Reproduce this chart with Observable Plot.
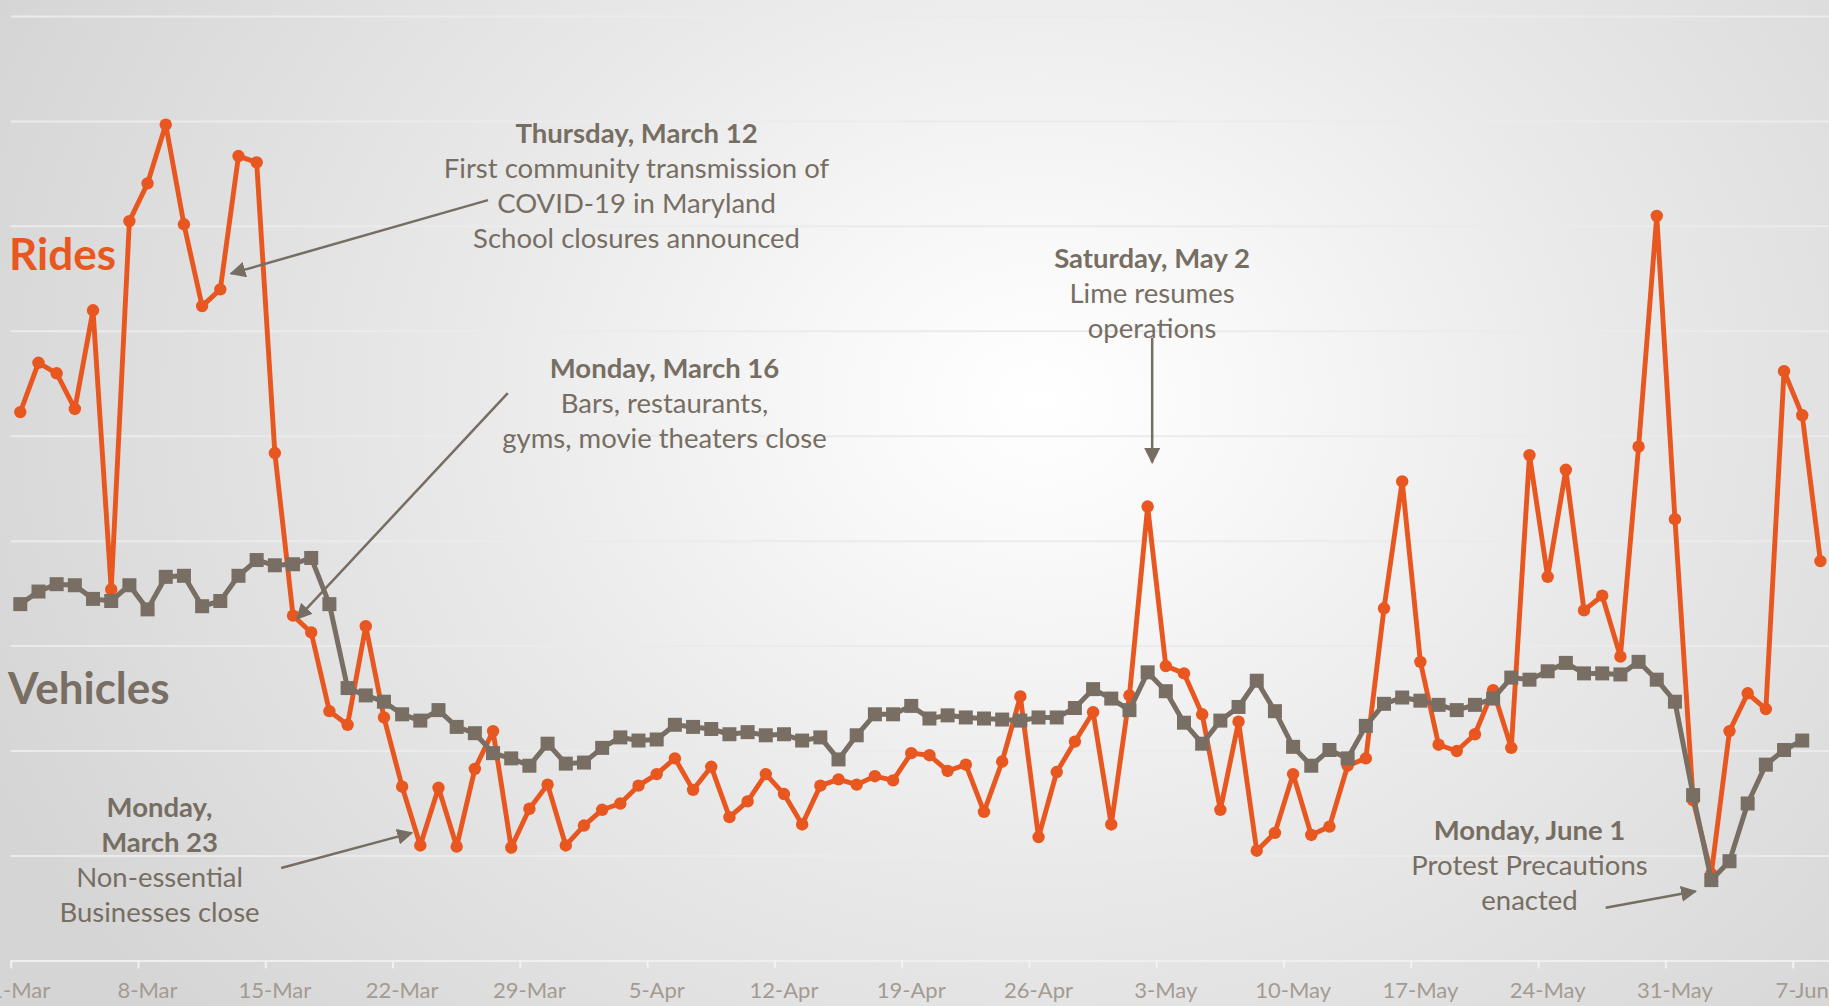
<!DOCTYPE html>
<html>
<head>
<meta charset="utf-8">
<script src="https://cdn.jsdelivr.net/npm/d3@7"></script>
<script src="https://cdn.jsdelivr.net/npm/@observablehq/plot@0.6"></script>
<style>
  html, body { margin: 0; padding: 0; overflow: hidden; background: #dedede; }
  #chart svg { display: block; }
</style>
</head>
<body>
<div id="chart"></div>
<script>
// ---- data (index 0 = 1 March 2020, one value per day) ----
const startDate = "2020-03-01";
const rides = [
  523, 570, 560, 526, 620, 354, 705, 741, 797, 702,
  624, 640, 767, 761, 484, 329, 313, 238, 225, 319,
  232, 166, 110, 165, 109, 183, 219, 108, 145, 168,
  110, 129, 144, 150, 167, 178, 193, 163, 185, 137,
  152, 178, 159, 130, 167, 173, 168, 176, 172, 198,
  196, 181, 187, 142, 190, 252, 118, 180, 209, 237,
  130, 253, 433, 281, 274, 235, 144, 228, 105, 122,
  178, 120, 128, 186, 193, 336, 457, 285, 206, 200,
  216, 258, 203, 482, 366, 468, 334, 348, 290, 490,
  710, 421, 153, 83, 219, 255, 240, 562, 520, 381
];
const vehicles = [
  340, 352, 359, 358, 345, 343, 358, 335, 366, 367,
  338, 343, 367, 382, 377, 378, 384, 340, 260, 253,
  247, 235, 229, 239, 223, 217, 198, 193, 186, 207,
  188, 189, 203, 213, 210, 211, 225, 223, 221, 216,
  218, 215, 216, 210, 213, 192, 215, 235, 235, 243,
  231, 234, 232, 231, 230, 229, 232, 232, 241, 259,
  250, 239, 275, 257, 227, 207, 229, 242, 267, 238,
  204, 186, 201, 193, 224, 245, 251, 248, 244, 239,
  244, 250, 270, 268, 276, 284, 274, 274, 273, 285,
  268, 247, 158, 77, 95, 150, 187, 201, 210
];
const tickDates = ["2020-03-01","2020-03-08","2020-03-15","2020-03-22","2020-03-29","2020-04-05","2020-04-12",
                   "2020-04-19","2020-04-26","2020-05-03","2020-05-10","2020-05-17","2020-05-24","2020-05-31","2020-06-07"];
const tickLabels = ["1-Mar","8-Mar","15-Mar","22-Mar","29-Mar","5-Apr","12-Apr",
                    "19-Apr","26-Apr","3-May","10-May","17-May","24-May","31-May","7-Jun"];
const gridValues = [100, 200, 300, 400, 500, 600, 700, 800, 900];

// annotations: x in days after 1 March, y in chart units
const notes = [
  {x: 34.39, y: 788, title: ["Thursday, March 12"], body: ["First community transmission of", "COVID-19 in Maryland", "School closures announced"]},
  {x: 35.93, y: 564, title: ["Monday, March 16"], body: ["Bars, restaurants,", "gyms, movie theaters close"]},
  {x: 8.16, y: 146, title: ["Monday,", "March 23"], body: ["Non-essential", "Businesses close"]},
  {x: 62.74, y: 669, title: ["Saturday, May 2"], body: ["Lime resumes", "operations"]},
  {x: 83.5, y: 124, title: ["Monday, June 1"], body: ["Protest Precautions", "enacted"]}
];
const arrows = [
  {x1: 26.22, y1: 725, x2: 12.09, y2: 655},
  {x1: 27.31, y1: 541, x2: 15.72, y2: 326},
  {x1: 14.85, y1: 88.5, x2: 22.03, y2: 122},
  {x1: 62.75, y1: 594, x2: 62.75, y2: 475},
  {x1: 87.69, y1: 50.6, x2: 92.63, y2: 66.4}
];
const seriesLabels = [
  {name: "Rides", x: -0.12, y: 672},
  {name: "Vehicles", x: -0.17, y: 258}
];

// ---- helpers ----
const ORANGE = "#E8571F", GRAY = "#786E63", NOTE = "#776E63", TICKTXT = "#A39B92";
const t0 = Date.parse(startDate + "T00:00:00Z");
const day = n => new Date(t0 + n * 864e5);
const rideRows = rides.map((v, i) => ({date: day(i + 0.5), value: v}));
const vehicleRows = vehicles.map((v, i) => ({date: day(i + 0.5), value: v}));
const ticks = tickDates.map(s => new Date(s + "T00:00:00Z"));
// labels sit centred on the day they name (half a day right of the tick)
const labelPos = ticks.map(d => new Date(+d + 864e5 / 2));
const labelOf = new Map(labelPos.map((d, i) => [+d, tickLabels[i]]));

const lineStep = 33.4;
const noteRows = notes.flatMap(n => [...n.title.map(t => ({t, bold: true})), ...n.body.map(t => ({t, bold: false}))]
  .map((r, i) => ({date: day(n.x), value: n.y - i * lineStep, text: r.t, bold: r.bold})));
const arrowRows = arrows.map(a => ({x1: day(a.x1), y1: a.y1, x2: day(a.x2), y2: a.y2}));

function filledHead(color, context) {
  const doc = (context && context.document) || document;
  const ns = "http://www.w3.org/2000/svg";
  const m = doc.createElementNS(ns, "marker");
  m.setAttribute("viewBox", "0 -5 10 10");
  m.setAttribute("refX", "9");
  m.setAttribute("refY", "0");
  m.setAttribute("markerWidth", "6.4");
  m.setAttribute("markerHeight", "6.4");
  m.setAttribute("orient", "auto");
  const p = doc.createElementNS(ns, "path");
  p.setAttribute("d", "M0,-5L10,0L0,5Z");
  p.setAttribute("fill", color);
  p.setAttribute("stroke", "none");
  m.appendChild(p);
  return m;
}

const FONT = "Lato, 'Open Sans', sans-serif";
const NOTE_SIZE = 27.5;

const chart = Plot.plot({
  width: 1829,
  height: 1006,
  marginLeft: 10.7,
  marginRight: 0,
  marginTop: 16,
  marginBottom: 45.6,
  x: {type: "utc", domain: [day(0), day(100)], axis: null},
  y: {domain: [0, 900], axis: null},
  style: {
    background: "radial-gradient(ellipse 1150px 950px at 1040px 400px, #ffffff 0%, #f8f8f8 18%, #e9e9e9 50%, #d5d5d5 100%)",
    fontFamily: FONT,
    overflow: "hidden"
  },
  marks: [
    Plot.ruleY(gridValues, {stroke: "#ebebeb", strokeWidth: 2}),
    Plot.ruleY([0], {stroke: "#efefef", strokeWidth: 2}),
    // tick marks
    Plot.axisX(ticks, {
      anchor: "bottom",
      tickSize: 8,
      stroke: "#f2f2f2",
      strokeWidth: 2,
      label: null,
      tickFormat: () => ""
    }),
    // tick labels
    Plot.axisX(labelPos, {
      anchor: "bottom",
      tickSize: 0,
      tickPadding: 21,
      color: TICKTXT,
      fontSize: 22,
      fontFamily: FONT,
      label: null,
      tickFormat: d => labelOf.get(+d)
    }),
    // Rides
    Plot.lineY(rideRows, {x: "date", y: "value", stroke: ORANGE, strokeWidth: 4.9, strokeLinejoin: "round"}),
    Plot.dot(rideRows, {x: "date", y: "value", r: 6.2, fill: ORANGE, stroke: "none"}),
    // Vehicles
    Plot.lineY(vehicleRows, {x: "date", y: "value", stroke: GRAY, strokeWidth: 5, strokeLinejoin: "round"}),
    Plot.dot(vehicleRows, {x: "date", y: "value", symbol: "square", r: 7.9, fill: GRAY, stroke: "none"}),
    // series labels
    Plot.text(seriesLabels, {x: d => day(d.x), y: "y", text: "name", textAnchor: "start",
      fill: d => d.name === "Rides" ? ORANGE : GRAY, fontSize: 44, fontWeight: "bold", fontFamily: FONT}),
    // annotation arrows
    Plot.link(arrowRows, {x1: "x1", y1: "y1", x2: "x2", y2: "y2", stroke: NOTE, strokeWidth: 2.5, markerEnd: filledHead}),
    // annotation text
    Plot.text(noteRows.filter(d => d.bold), {x: "date", y: "value", text: "text", fill: NOTE, fontSize: NOTE_SIZE, fontWeight: "bold", fontFamily: FONT}),
    Plot.text(noteRows.filter(d => !d.bold), {x: "date", y: "value", text: "text", fill: NOTE, fontSize: NOTE_SIZE, fontFamily: FONT})
  ]
});
document.getElementById("chart").appendChild(chart);
</script>
</body>
</html>
